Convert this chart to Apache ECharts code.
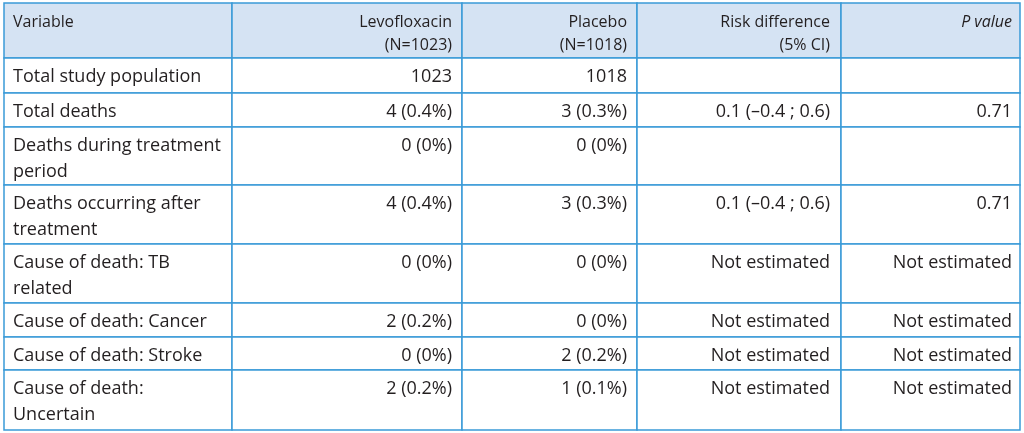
<!DOCTYPE html>
<html><head><meta charset="utf-8">
<script src="https://cdn.jsdelivr.net/npm/echarts@6/dist/echarts.min.js"></script>
<style>html,body{margin:0;padding:0;background:#fff}#c{width:1024px;height:433px}</style>
</head><body><div id="c"></div>
<script>
// ---- data ----
const headers = ['Variable', 'Levofloxacin\n(N=1023)', 'Placebo\n(N=1018)', 'Risk difference\n(5% CI)', 'P value'];
const variables = ['Total study population', 'Total deaths', 'Deaths during treatment\nperiod', 'Deaths occurring after\ntreatment', 'Cause of death: TB\nrelated', 'Cause of death: Cancer', 'Cause of death: Stroke', 'Cause of death:\nUncertain'];
const levofloxacin = ['1023', '4 (0.4%)', '0 (0%)', '4 (0.4%)', '0 (0%)', '2 (0.2%)', '0 (0%)', '2 (0.2%)'];
const placebo = ['1018', '3 (0.3%)', '0 (0%)', '3 (0.3%)', '0 (0%)', '0 (0%)', '2 (0.2%)', '1 (0.1%)'];
const riskDifference = ['', '0.1 (–0.4 ; 0.6)', '', '0.1 (–0.4 ; 0.6)', 'Not estimated', 'Not estimated', 'Not estimated', 'Not estimated'];
const pValue = ['', '0.71', '', '0.71', 'Not estimated', 'Not estimated', 'Not estimated', 'Not estimated'];

// ---- layout (sizes only) ----
const colWidths = [228, 230, 175, 204, 179];
const rowHeights = [55, 35, 34, 58, 59, 59, 34, 33, 60];
const colPadRight = [0, 10, 10, 11, 8];

const columns = [variables, levofloxacin, placebo, riskDifference, pValue];
const colEdges = [0]; colWidths.forEach(w => colEdges.push(colEdges[colEdges.length - 1] + w));
const rowEdges = [0]; rowHeights.forEach(h => rowEdges.push(rowEdges[rowEdges.length - 1] + h));

const cells = [];
headers.forEach((h, c) => cells.push([colEdges[c], colEdges[c + 1], rowEdges[0], rowEdges[1], h, c, 0]));
for (let r = 0; r < variables.length; r++) {
  columns.forEach((col, c) => cells.push([colEdges[c], colEdges[c + 1], rowEdges[r + 1], rowEdges[r + 2], col[r], c, r + 1]));
}

const FONT = 'Open Sans';
const chart = echarts.init(document.getElementById('c'));
chart.setOption({
  animation: false,
  grid: { left: 4, right: 4, top: 3, bottom: 3 },
  xAxis: { type: 'value', min: 0, max: colEdges[colEdges.length - 1], show: false },
  yAxis: { type: 'value', min: 0, max: rowEdges[rowEdges.length - 1], inverse: true, show: false },
  series: [{
    type: 'custom',
    data: cells,
    renderItem: function (params, api) {
      const x0 = api.value(0), x1 = api.value(1), y0 = api.value(2), y1 = api.value(3);
      const c = api.value(5), r = api.value(6);
      const text = cells[params.dataIndex][4];
      const p0 = api.coord([x0, y0]), p1 = api.coord([x1, y1]);
      const isHeader = r === 0;
      const left = c === 0;
      const tx = left ? p0[0] + 9 : p1[0] - colPadRight[c];
      return {
        type: 'group',
        children: [
          { type: 'rect', shape: { x: p0[0], y: p0[1], width: p1[0] - p0[0], height: p1[1] - p0[1] },
            style: { fill: isHeader ? '#d5e3f3' : '#ffffff', stroke: '#3a9bd8', lineWidth: 1.5 } },
          { type: 'text', x: tx, y: p0[1] + (isHeader ? 8 : 6),
            style: { text: text, fill: '#231f20', align: left ? 'left' : 'right', verticalAlign: 'top',
              fontFamily: FONT, fontSize: isHeader ? 16 : 18, lineHeight: isHeader ? 23 : 26,
              fontStyle: (isHeader && c === 4) ? 'italic' : 'normal' } }
        ]
      };
    }
  }]
});
</script></body></html>
